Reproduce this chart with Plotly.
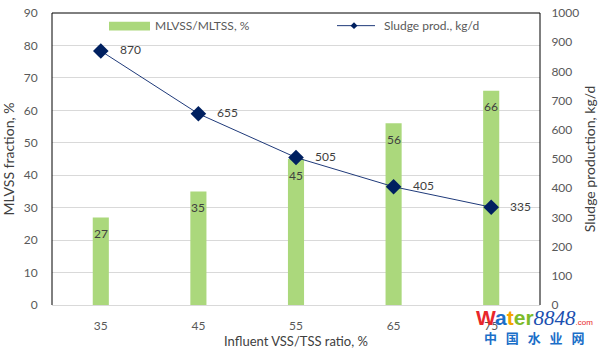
import plotly.graph_objects as go

categories = ["35", "45", "55", "65", "75"]
mlvss_fraction = [27, 35, 45, 56, 66]
sludge_prod = [870, 655, 505, 405, 335]
left_ticks = [0, 10, 20, 30, 40, 50, 60, 70, 80, 90]
right_ticks = [0, 100, 200, 300, 400, 500, 600, 700, 800, 900, 1000]

FONT = "Lato"
GREY = "#595959"
BAR_COLOR = "#ABD87C"
LINE_COLOR = "#002060"

fig = go.Figure()
fig.add_trace(go.Bar(x=categories, y=mlvss_fraction, width=0.165,
                     marker=dict(color=BAR_COLOR, line=dict(width=0)),
                     name="MLVSS/MLTSS, %", yaxis="y"))
fig.add_trace(go.Scatter(x=categories, y=sludge_prod, mode="lines+markers",
                         line=dict(color="#1F3A7A", width=1),
                         marker=dict(symbol="diamond", size=12, color=LINE_COLOR),
                         name="Sludge prod., kg/d", yaxis="y2"))

annotations = []
for i, v in enumerate(mlvss_fraction):
    annotations.append(dict(x=i, y=v, xref="x", yref="y", text=str(v), showarrow=False,
                            yshift=-16, font=dict(family=FONT, size=12, color="#404040")))
for i, v in enumerate(sludge_prod):
    annotations.append(dict(x=i, y=v, xref="x", yref="y2", text=str(v), showarrow=False,
                            xanchor="left", xshift=17, yshift=1,
                            font=dict(family=FONT, size=12, color="#404040")))

W, H = 603, 354
ML, MR, MT, MB = 52, 63, 5, 49
pw, ph = W - ML - MR, H - MT - MB
def px(x):
    return (x - ML) / pw
def py(y):
    return 1 - (y - MT) / ph

annotations.append(dict(x=px(153), y=py(18), xref="paper", yref="paper", text="MLVSS/MLTSS, %",
                        showarrow=False, xanchor="left", yanchor="middle",
                        font=dict(family=FONT, size=12, color=GREY)))
annotations.append(dict(x=px(382), y=py(18), xref="paper", yref="paper", text="Sludge prod., kg/d",
                        showarrow=False, xanchor="left", yanchor="middle",
                        font=dict(family=FONT, size=12, color=GREY)))

# watermark
annotations.append(dict(x=px(534), y=py(318), xref="paper", yref="paper", showarrow=False,
                        xanchor="center", yanchor="middle",
                        text="<b><span style='color:#E8262B'>W</span><span style='color:#1B6FC8'>a</span>"
                             "<span style='color:#F5A300'>t</span><span style='color:#7DBB2A'>er</span></b>"
                             "<i><span style='font-family:Liberation Serif;color:#1B4FB0'>8848</span></i>"
                             "<span style='color:#E8262B;font-size:8px'>.com</span>",
                        font=dict(family="Liberation Sans", size=21)))
annotations.append(dict(x=px(534), y=py(338), xref="paper", yref="paper", showarrow=False,
                        xanchor="center", yanchor="middle",
                        text="<b>中   国   水   业   网</b>",
                        font=dict(family="Noto Sans CJK SC", size=13, color="#1B6FC8")))

shapes = [
    dict(type="rect", xref="paper", yref="paper", x0=px(109), x1=px(150), y0=py(23), y1=py(14),
         fillcolor=BAR_COLOR, line=dict(width=0)),
    dict(type="line", xref="paper", yref="paper", x0=px(337), x1=px(375), y0=py(18), y1=py(18),
         line=dict(color="#1F3A7A", width=1)),
    dict(type="path", xref="paper", yref="paper",
         path=f"M {px(350.5)} {py(18)} L {px(354)} {py(14.5)} L {px(357.5)} {py(18)} L {px(354)} {py(21.5)} Z",
         fillcolor=LINE_COLOR, line=dict(width=0)),
    dict(type="line", xref="paper", yref="paper", x0=0, x1=1, y0=1, y1=1, line=dict(color="black", width=1)),
    dict(type="line", xref="paper", yref="paper", x0=0, x1=0, y0=0, y1=1, line=dict(color="black", width=1)),
    dict(type="line", xref="paper", yref="paper", x0=1, x1=1, y0=0, y1=1, line=dict(color="black", width=1)),
]

fig.update_layout(
    width=W, height=H,
    margin=dict(l=ML, r=MR, t=MT, b=MB, pad=0),
    paper_bgcolor="white", plot_bgcolor="white",
    showlegend=False,
    font=dict(family=FONT, size=12, color=GREY),
    xaxis=dict(type="category", range=[-0.5, 4.5], showgrid=False,
               showline=True, linecolor="#D9D9D9", linewidth=1,
               ticks="outside", ticklen=10, tickcolor="rgba(0,0,0,0)",
               tickfont=dict(family=FONT, size=12, color=GREY),
               title=dict(text="Influent VSS/TSS ratio, %", standoff=4,
                          font=dict(family=FONT, size=13, color="#404040"))),
    yaxis=dict(range=[0, 90], tickvals=left_ticks, showgrid=True, gridcolor="#D9D9D9", gridwidth=1,
               zeroline=False, showline=False, ticklabeloverflow="allow",
               ticks="outside", ticklen=11, tickcolor="rgba(0,0,0,0)",
               tickfont=dict(family=FONT, size=12, color=GREY),
               title=dict(text="MLVSS fraction, %", standoff=6,
                          font=dict(family=FONT, size=14, color="#404040"))),
    yaxis2=dict(range=[0, 1000], tickvals=right_ticks, overlaying="y", side="right",
                showgrid=False, zeroline=False, showline=False, ticklabeloverflow="allow",
                ticks="outside", ticklen=8, tickcolor="rgba(0,0,0,0)",
                tickfont=dict(family=FONT, size=12, color=GREY),
                title=dict(text="Sludge production, kg/d", standoff=6,
                           font=dict(family=FONT, size=14, color="#404040"))),
    annotations=annotations,
    shapes=shapes,
)

fig.write_html("out.html")
